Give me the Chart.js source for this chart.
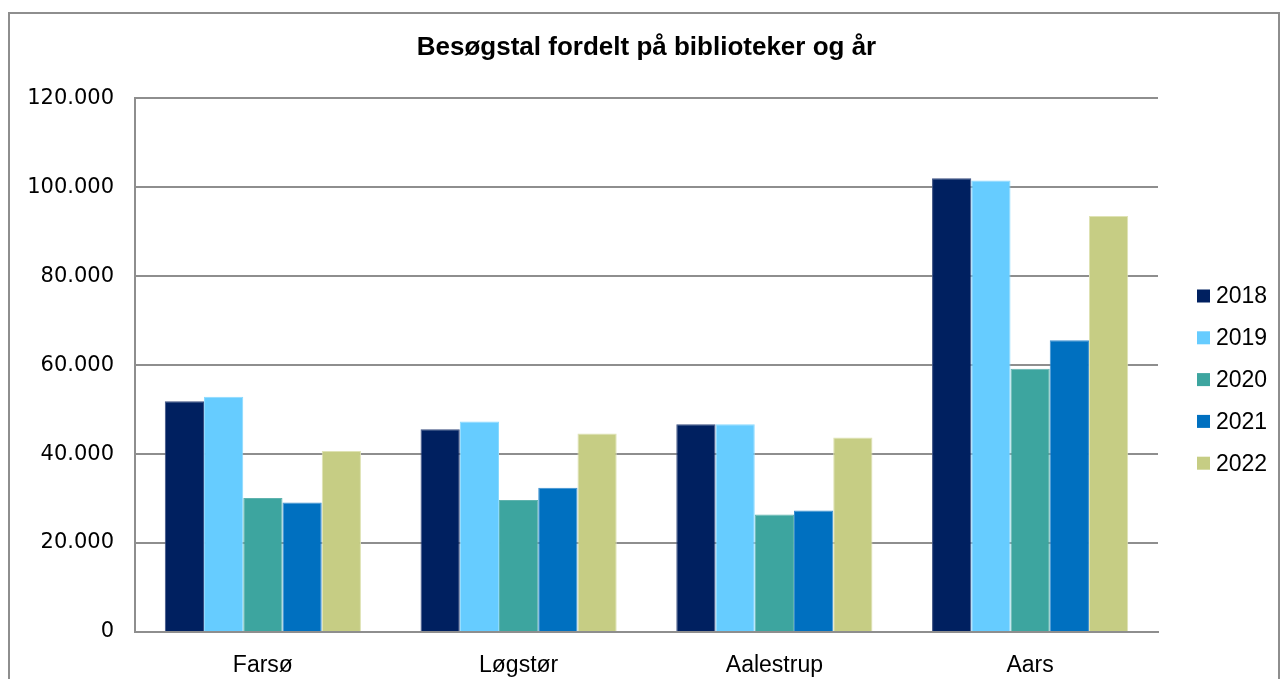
<!DOCTYPE html>
<html>
<head>
<meta charset="utf-8">
<script src="https://cdn.jsdelivr.net/npm/chart.js@4"></script>
<style>
  body { margin: 0; background: #fff; }
  #frame { position: absolute; left: 8px; top: 12px; width: 1268px; height: 700px; border: 2px solid #8e8e8e; }
  #wrap { position: absolute; left: 0; top: 0; width: 1282px; height: 679px; }
</style>
</head>
<body>
<div id="frame"></div>
<div id="wrap"><canvas id="chart" width="1282" height="679"></canvas></div>
<script>
  // Data - Besøgstal pr. bibliotek
  const categories = ['Farsø', 'Løgstør', 'Aalestrup', 'Aars'];
  const years = ['2018', '2019', '2020', '2021', '2022'];
  const visits2018 = [51900, 45600, 46700, 102000];
  const visits2019 = [52900, 47300, 46700, 101500];
  const visits2020 = [30100, 29700, 26400, 59200];
  const visits2021 = [29100, 32400, 27300, 65600];
  const visits2022 = [40700, 44600, 43700, 93500];
  const yTickLabels = ['0', '20.000', '40.000', '60.000', '80.000', '100.000', '120.000'];

  const colors = ['#002060', '#66ccff', '#3da59f', '#0070c0', '#c6cd84'];
  const edges = ['#3b4f80', '#8adaff', '#5fb3ae', '#3a8fd0', '#dfe3b4'];
  const series = [visits2018, visits2019, visits2020, visits2021, visits2022];

  // legend drawn beside the plot, like the original
  const sideLegend = {
    id: 'sideLegend',
    afterDraw(chart) {
      const ctx = chart.ctx;
      ctx.save();
      ctx.font = '23px "Liberation Sans", Arial, sans-serif';
      ctx.textBaseline = 'middle';
      chart.data.datasets.forEach((ds, i) => {
        const cy = 296 + i * 41.8;
        ctx.fillStyle = ds.backgroundColor;
        ctx.fillRect(1197, cy - 6.5, 13, 13);
        ctx.fillStyle = '#000';
        ctx.fillText(ds.label, 1216, cy + 1);
      });
      ctx.restore();
    }
  };

  const ctx = document.getElementById('chart').getContext('2d');
  const chart = new Chart(ctx, {
    type: 'bar',
    data: {
      labels: categories,
      datasets: years.map((y, i) => ({
        label: y,
        data: series[i],
        backgroundColor: colors[i],
        borderColor: edges[i],
        borderWidth: 1,
        categoryPercentage: 0.767,
        barPercentage: 1
      }))
    },
    options: {
      responsive: false,
      animation: false,
      layout: { padding: { left: 0, right: 124, top: 0, bottom: 0 } },
      plugins: {
        legend: { display: false },
        tooltip: { enabled: false },
        title: {
          display: true,
          fullSize: false,
          text: 'Besøgstal fordelt på biblioteker og år',
          color: '#000',
          font: { family: '"Liberation Sans", Arial, sans-serif', size: 26, weight: 'bold' },
          padding: { top: 32, bottom: 35 }
        }
      },
      scales: {
        x: {
          grid: { display: false },
          border: { display: true, color: '#8e8e8e', width: 2 },
          ticks: {
            color: '#000',
            padding: 12,
            font: { family: '"Liberation Sans", Arial, sans-serif', size: 23 }
          },
          afterFit: (s) => { s.height = 47; }
        },
        y: {
          min: 0,
          max: 120000,
          grid: { color: '#8e8e8e', lineWidth: 2, drawTicks: false },
          border: { display: true, color: '#8e8e8e', width: 2 },
          ticks: {
            stepSize: 20000,
            padding: 21,
            color: '#000',
            font: { family: '"DejaVu Sans", Verdana, sans-serif', size: 21 },
            callback: (v, i) => yTickLabels[i]
          },
          afterFit: (s) => { s.width = 135; }
        }
      }
    },
    plugins: [sideLegend]
  });
</script>
</body>
</html>
